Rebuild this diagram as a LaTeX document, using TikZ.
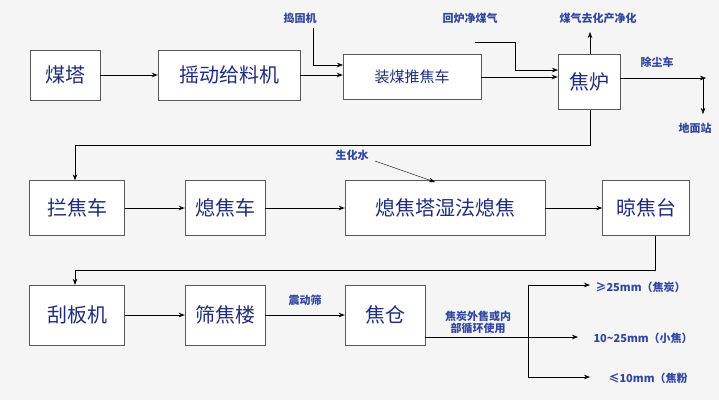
\documentclass[tikz,border=0pt]{standalone}
\usepackage{fontspec}
\setmainfont{Noto Sans CJK SC}
\usetikzlibrary{arrows.meta}
\definecolor{tblue}{RGB}{30,45,125}
\definecolor{lblue}{RGB}{50,70,160}
\begin{document}
\begin{tikzpicture}[x=1pt,y=-1pt,
  box/.style={draw=gray!70!black,fill=white,minimum height=#1,inner sep=0pt,font=\fontsize{20}{20}\selectfont,text=tblue},
  box/.default=50,
  lab/.style={font=\fontsize{11}{12}\selectfont\bfseries,text=lblue,align=center},
  arr/.style={-{Stealth[length=6pt]},line width=1pt},
  thin/.style={-{Stealth[length=6pt]},line width=0.6pt}]
\fill[gray!8] (0,0) rectangle (719,400);
\useasboundingbox (0,0) rectangle (719,400);
% row 1
\node[box,minimum width=70] (mt) at (65,75) {煤塔};
\node[box,minimum width=142] (yd) at (229,75) {摇动给料机};
\node[box=45,minimum width=138,font=\fontsize{15}{15}\selectfont] (zm) at (412,77) {装煤推焦车};
\node[box=55,minimum width=62] (jl) at (589,82) {焦炉};
\draw[arr] (mt) -- (yd);
\draw[arr] (yd.east) -- (zm.west|-yd.east);
\draw[arr] (zm.east) -- (jl.west|-zm.east);
\node[lab] (dg) at (300,18) {捣固机};
\coordinate (dg1) at (313,28);
\draw[thin] (dg1) |- (343,65);
\node[lab] (hl) at (470,18) {回炉净煤气};
\coordinate (hl1) at (475,42);
\draw[thin] (hl1) -- (515,42) |- (558,70);
\node[lab] (mq) at (598,18) {煤气去化产净化};
\draw[thin] (jl.north-|590,0) -- (590,32);
\node[lab] (cc) at (657,62) {除尘车};
\coordinate (cc1) at (706,78);
\draw[thin,line width=0.4pt] (jl.east|-cc1) -- (cc1);
\node[lab] (dm) at (695,128) {地面站};
\draw[thin,line width=0.4pt] (703,78) -- (703,114);
% row 2
\node[box=55,minimum width=95] (lj) at (77,208) {拦焦车};
\node[box=55,minimum width=80] (xj) at (225,208) {熄焦车};
\node[box=55,minimum width=200] (xt) at (445,208) {熄焦塔湿法熄焦};
\node[box=55,minimum width=87] (lt) at (646,208) {晾焦台};
\draw[thin] (jl.south-|590,0) -- (590,145) -| (lj.north-|75,0);
\draw[arr] (lj) -- (xj);
\draw[arr] (xj) -- (xt);
\draw[arr] (xt) -- (lt);
\node[lab] (sh) at (352,155) {生化水};
\draw[thin,line width=0.4pt] (375,161) -- (435,182);
% row 3
\node[box=60,minimum width=95] (gb) at (77,315) {刮板机};
\node[box=60,minimum width=80] (sj) at (225,315) {筛焦楼};
\node[box=60,minimum width=80] (jc) at (385,315) {焦仓};
\draw[thin] (lt.south-|655,0) -- (655,270) -| (gb.north-|75,0);
\draw[arr] (gb) -- (sj);
\draw[arr] (sj) -- (jc);
\node[lab] (zd) at (305,300) {震动筛};
\coordinate (o1) at (590,285);
\coordinate (o2) at (578,337);
\coordinate (o3) at (590,377);
\draw[thin] (jc.east|-o2) -- (o2);
\draw[thin] (528,285) -- (o1);
\draw[thin] (528,285) -- (528,377) -- (o3);
\node[lab] at (478,322) {焦炭外售或内\\部循环使用};
\node[lab,anchor=west] at (592,287) {≥25mm（焦炭）};
\node[lab,anchor=west] at (590,338) {10\textasciitilde 25mm（小焦）};
\node[lab,anchor=west] at (605,378) {≤10mm（焦粉};
\end{tikzpicture}
\end{document}
